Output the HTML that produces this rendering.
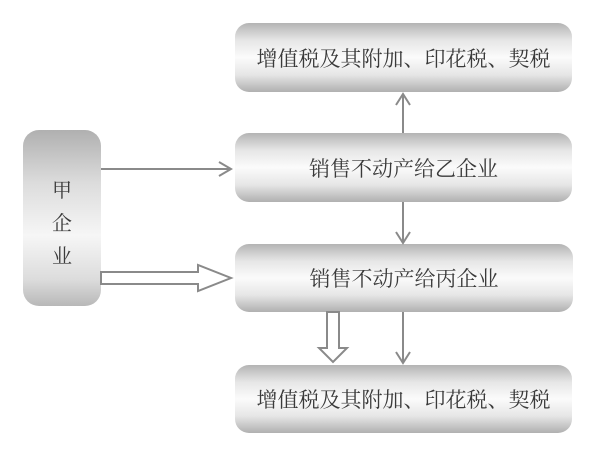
<!DOCTYPE html>
<html><head><meta charset="utf-8"><style>
body{margin:0;background:#fff;}
.wrap{position:relative;width:610px;height:449px;overflow:hidden;font-family:"Liberation Serif","Noto Serif CJK SC",serif;}
.b{position:absolute;border-radius:14px;background:linear-gradient(#b4b4b4 0%,#e6e6e6 25%,#fbfbfb 50%,#e6e6e6 75%,#b0b0b0 100%);display:flex;align-items:center;justify-content:center;color:#3a3a3a;font-size:21px;}
</style></head><body><div class="wrap">
<div class="b" style="left:235px;top:23px;width:337px;height:69px">增值税及其附加、印花税、契税</div>
<div class="b" style="left:235px;top:133px;width:337px;height:69px">销售不动产给乙企业</div>
<div class="b" style="left:235px;top:244px;width:338px;height:68px">销售不动产给丙企业</div>
<div class="b" style="left:235px;top:365px;width:337px;height:68px">增值税及其附加、印花税、契税</div>
<div class="b" style="left:23px;top:130px;width:78px;height:164px;padding-top:12px;border-radius:16px;flex-direction:column;font-size:20px;line-height:33px;background:linear-gradient(#b0b0b0 0%,#dcdcdc 30%,#f6f6f6 60%,#dcdcdc 85%,#b8b8b8 100%)">甲<br>企<br>业</div>
<svg width="610" height="449" style="position:absolute;left:0;top:0" fill="none" stroke="#8a8a8a" stroke-width="2">
<line x1="101" y1="169" x2="230" y2="169"/><polyline points="219,162 231,169 219,176"/>
<line x1="403" y1="133" x2="403" y2="95"/><polyline points="396,105 403,94 410,105"/>
<line x1="403" y1="202" x2="403" y2="242"/><polyline points="396,232 403,243 410,232"/>
<line x1="403" y1="312" x2="403" y2="363"/><polyline points="396,352 403,363 410,352"/>
<polygon points="101,272 198,272 198,265 231,278 198,291 198,284 101,284" fill="#fff"/>
<polygon points="327,312 339,312 339,348 347,348 333,362 319,348 327,348" fill="#fff"/>
</svg>
</div></body></html>
